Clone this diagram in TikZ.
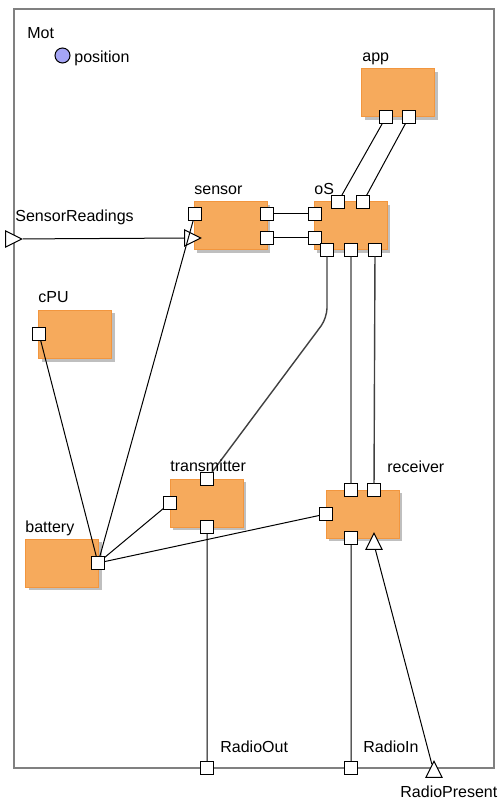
\documentclass[tikz,border=0pt]{standalone}
\usepackage{fontspec}
\setmainfont{Liberation Sans}
\usetikzlibrary{shapes.geometric,shadows}
\definecolor{blockfill}{RGB}{246,170,92}
\definecolor{blockline}{RGB}{242,150,62}
\definecolor{frameline}{RGB}{128,128,128}
\definecolor{attrfill}{RGB}{165,165,245}
\begin{document}
\begin{tikzpicture}[x=0.5pt,y=-0.5pt,
  every node/.style={font=\fontsize{8}{9.6}\selectfont},
  block/.style={draw=blockline, fill=blockfill, line width=0.5pt, minimum width=36.5pt, minimum height=24pt, inner sep=0pt,
    general shadow={fill=black!25, shadow xshift=1.5pt, shadow yshift=-1.5pt}},
  port/.style={draw, fill=white, line width=0.5pt, minimum size=6.2pt, inner sep=0pt},
  inport/.style={draw, fill=white, line width=0.5pt, isosceles triangle, isosceles triangle stretches,
    minimum width=8pt, minimum height=8pt, inner sep=0pt},
  wire/.style={line width=0.5pt},
  bus/.style={line width=0.7pt, draw=black!75},
  caption/.style={anchor=base west, inner sep=0pt},
  motframe/.style={draw=frameline, line width=1pt}]
\useasboundingbox (0,0) rectangle (498,801);
\draw[motframe] (14,9) rectangle (494,768);
% blocks
\node[block] (app) at (398,93) {};
\node[block] (os) at (350.5,226) {};
\node[block] (sensor) at (230.5,226) {};
\node[block] (cpu) at (75,334.5) {};
\node[block] (battery) at (62,563) {};
\node[block] (transmitter) at (206.5,503) {};
\node[block] (receiver) at (362.5,514) {};
% attribute
\node[draw, circle, fill=attrfill, line width=0.5pt, minimum size=7.5pt, inner sep=0pt] (position) at (62.5,55.5) {};
% ports
\node[port] (ap1) at (386,117) {};
\node[port] (ap2) at (409,117) {};
\node[port] (ost1) at (338,202) {};
\node[port] (ost2) at (363,202) {};
\node[port] (osl1) at (315,214) {};
\node[port] (osl2) at (315,238) {};
\node[port] (osb1) at (327,250) {};
\node[port] (osb2) at (351,250) {};
\node[port] (osb3) at (375,250) {};
\node[port] (sep) at (195,214) {};
\node[inport, anchor=apex] (sein) at (202,238) {};
\node[port] (ser1) at (267,214) {};
\node[port] (ser2) at (267,238) {};
\node[port] (cpup) at (39,334) {};
\node[port] (batp) at (98,563) {};
\node[port] (txt) at (207,479) {};
\node[port] (txl) at (170,503) {};
\node[port] (txb) at (207,527) {};
\node[port] (rxt1) at (351,490) {};
\node[port] (rxt2) at (374,490) {};
\node[port] (rxl) at (326,514) {};
\node[port] (rxb) at (351,538) {};
\node[inport, shape border rotate=90, anchor=apex] (rxin) at (374,532) {};
\node[inport, anchor=apex] (sr) at (23,239) {};
\node[port] (rout) at (207,768) {};
\node[port] (rin) at (351,768) {};
\node[inport, shape border rotate=90, anchor=apex] (rpres) at (434,760) {};
% connectors
\coordinate (bend) at (327,318);
\draw[wire] (ap1) -- (ost1) (ap2) -- (ost2);
\draw[wire] (ser1) -- (osl1) (ser2) -- (osl2);
\draw[wire] (sr) -- (sein);
\draw[bus] (osb2) -- (rxt1) (osb3) -- (rxt2);
\draw[bus, rounded corners=5pt] (osb1) -- (bend) -- (txt);
\draw[wire] (batp) -- (cpup) (batp) -- (sep) (batp) -- (txl) (batp) -- (rxl);
\draw[wire] (txb) -- (rout) (rxb) -- (rin) (rpres) -- (rxin);
% texts
\node[caption] at (27,39) {Mot};
\node[caption] at (74,63) {position};
\node[caption] at (362,62) {app};
\node[caption] at (314,195) {oS};
\node[caption] at (194,195) {sensor};
\node[caption] at (15,222) {SensorReadings};
\node[caption] at (38,303) {cPU};
\node[caption] at (25,532) {battery};
\node[caption] at (170,471) {transmitter};
\node[caption] at (387,472) {receiver};
\node[caption] at (220,752) {RadioOut};
\node[caption] at (363,752) {RadioIn};
\node[caption] at (400,797) {RadioPresent};
\end{tikzpicture}
\end{document}
